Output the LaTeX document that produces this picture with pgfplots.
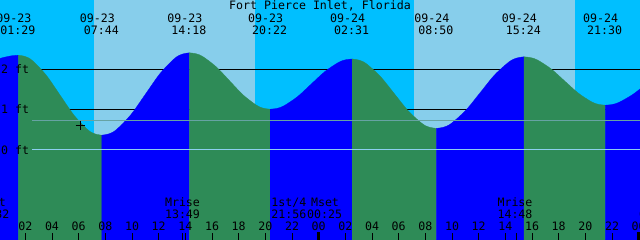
\documentclass[border=0pt]{standalone}
\usepackage{fontspec}
\usepackage{pgfplots}
\pgfplotsset{compat=1.18}
\newfontfamily\pxfont{DejaVu Sans Mono}
\newcommand{\pf}{\pxfont\fontsize{11.6}{12}\selectfont}
\definecolor{night}{HTML}{00BFFF}
\definecolor{day}{HTML}{87CEEB}
\definecolor{flood}{HTML}{0000FF}
\definecolor{ebb}{HTML}{2E8B57}
\definecolor{datum}{HTML}{8CCFF0}
\definecolor{msl}{HTML}{66A3A3}
\begin{document}
\begin{tikzpicture}
\begin{axis}[
  width=640pt, height=240pt, scale only axis,
  xmin=0.1, xmax=48.1, ymin=-2.25, ymax=3.75,
  axis line style={draw=none},
  axis on top,
  ytick=\empty,
  xtick={0,2,...,48},
  xticklabels={00,02,04,06,08,10,12,14,16,18,20,22,00,02,04,06,08,10,12,14,16,18,20,22,00},
  extra x ticks={13.82,38.8},
  extra x tick labels={},
  xtick pos=left,
  tick align=inside,
  major tick length=7pt,
  every tick/.append style={black, line width=1pt},
  xticklabel style={font=\pf, anchor=base, inner sep=0pt, yshift=9.3pt},
  clip=true,
  flood/.style={fill=flood, draw=flood, line width=0.3pt, smooth},
  ebb/.style={fill=ebb, draw=ebb, line width=0.3pt, smooth},
]
% sky: night / day bands
\addplot[fill=night, draw=none] coordinates {(-1,-2.25) (7.15,-2.25) (7.15,3.75) (-1,3.75)} -- cycle;
\addplot[fill=day, draw=none] coordinates {(7.15,-2.25) (19.23,-2.25) (19.23,3.75) (7.15,3.75)} -- cycle;
\addplot[fill=night, draw=none] coordinates {(19.23,-2.25) (31.16,-2.25) (31.16,3.75) (19.23,3.75)} -- cycle;
\addplot[fill=day, draw=none] coordinates {(31.16,-2.25) (43.23,-2.25) (43.23,3.75) (31.16,3.75)} -- cycle;
\addplot[fill=night, draw=none] coordinates {(43.23,-2.25) (49,-2.25) (49,3.75) (43.23,3.75)} -- cycle;
% level lines
\addplot[black, line width=1pt] coordinates {(2.5,2) (49,2)};
\addplot[black, line width=1pt] coordinates {(2.5,1) (49,1)};
% water: rising (flood) and falling (ebb) parts of the tide curve
\addplot[flood] coordinates {(-0.8,2.18) (0.1,2.29) (0.96,2.355) (1.483,2.37)}
  -- (axis cs:1.483,-2.25) -- (axis cs:-0.8,-2.25) -- cycle;
\addplot[ebb] coordinates {(1.483,2.37) (2.004,2.336) (2.525,2.236) (3.567,1.87) (4.608,1.37) (5.650,0.87) (6.692,0.504) (7.212,0.404) (7.733,0.37)}
  -- (axis cs:7.733,-2.25) -- (axis cs:1.483,-2.25) -- cycle;
\addplot[flood] coordinates {(7.733,0.37) (8.280,0.405) (8.828,0.508) (9.922,0.885) (11.017,1.4) (12.111,1.915) (13.206,2.292) (13.753,2.395) (14.3,2.43)}
  -- (axis cs:14.3,-2.25) -- (axis cs:7.733,-2.25) -- cycle;
\addplot[ebb] coordinates {(14.3,2.43) (14.806,2.406) (15.311,2.336) (16.322,2.078) (17.333,1.725) (18.344,1.373) (19.356,1.115) (19.861,1.044) (20.367,1.02)}
  -- (axis cs:20.367,-2.25) -- (axis cs:14.3,-2.25) -- cycle;
\addplot[flood] coordinates {(20.367,1.02) (20.880,1.041) (21.392,1.104) (22.417,1.334) (23.442,1.648) (24.467,1.961) (25.492,2.191) (26.004,2.254) (26.517,2.275)}
  -- (axis cs:26.517,-2.25) -- (axis cs:20.367,-2.25) -- cycle;
\addplot[ebb] coordinates {(26.517,2.275) (27.043,2.245) (27.570,2.159) (28.622,1.841) (29.675,1.408) (30.728,0.974) (31.781,0.656) (32.307,0.570) (32.833,0.54)}
  -- (axis cs:32.833,-2.25) -- (axis cs:26.517,-2.25) -- cycle;
\addplot[flood] coordinates {(32.833,0.54) (33.380,0.571) (33.928,0.660) (35.022,0.988) (36.117,1.435) (37.211,1.883) (38.306,2.210) (38.853,2.299) (39.4,2.33)}
  -- (axis cs:39.4,-2.25) -- (axis cs:32.833,-2.25) -- cycle;
\addplot[ebb] coordinates {(39.4,2.33) (39.908,2.309) (40.417,2.249) (41.433,2.028) (42.45,1.725) (43.467,1.423) (44.483,1.201) (44.992,1.141) (45.5,1.12)}
  -- (axis cs:45.5,-2.25) -- (axis cs:39.4,-2.25) -- cycle;
\addplot[flood] coordinates {(45.5,1.12) (46.017,1.138) (46.533,1.192) (47.567,1.39) (48.6,1.66)}
  -- (axis cs:48.6,-2.25) -- (axis cs:45.5,-2.25) -- cycle;
% datum and mean level lines
\addplot[datum, line width=1pt] coordinates {(2.5,0) (49,0)};
\addplot[msl, line width=1pt] coordinates {(2.5,0.74) (49,0.74)};
% current time mark
\addplot[black, only marks, mark=+, mark size=4.5pt, line width=1pt] coordinates {(6.1,0.62)};
% midnight bars
\addplot[black, line width=2.7pt] coordinates {(24,-2.25) (24,-2.04)};
\addplot[black, line width=2.7pt] coordinates {(48,-2.25) (48,-2.04)};
\coordinate (NW) at (rel axis cs:0,1);
\coordinate (SE) at (rel axis cs:1,0);
\end{axis}
\begin{scope}[shift={(NW)}, x=1pt, y=-1pt, every node/.style={font=\pf, inner sep=0pt, anchor=base, text=black}]
\node at (320,9.3) {Fort Pierce Inlet, Florida};
\node at (13.9,22.3) {09-23};  \node at (17.9,34.3) {01:29};
\node at (97.3,22.3) {09-23};  \node at (101.3,34.3) {07:44};
\node at (184.8,22.3) {09-23}; \node at (188.8,34.3) {14:18};
\node at (265.7,22.3) {09-23}; \node at (269.7,34.3) {20:22};
\node at (347.7,22.3) {09-24}; \node at (351.7,34.3) {02:31};
\node at (431.9,22.3) {09-24}; \node at (435.9,34.3) {08:50};
\node at (519.4,22.3) {09-24}; \node at (523.4,34.3) {15:24};
\node at (600.7,22.3) {09-24}; \node at (604.7,34.3) {21:30};
\node[anchor=base west] at (1,73.3) {2 ft};
\node[anchor=base west] at (1,113.3) {1 ft};
\node[anchor=base west] at (1,154.3) {0 ft};
\node at (-8,206.7) {Mset};   \node at (-8,218.3) {23:32};
\node at (182.5,206.7) {Mrise}; \node at (182.5,218.3) {13:49};
\node at (288.8,206.7) {1st/4}; \node at (288.8,218.3) {21:56};
\node at (325,206.7) {Mset};   \node at (324.7,218.3) {00:25};
\node at (515,206.7) {Mrise};  \node at (515,218.3) {14:48};
\node at (656.5,206.7) {Mset}; \node at (656.5,218.3) {01:18};
\end{scope}
\pgfresetboundingbox
\path[use as bounding box] (NW) rectangle (SE);
\end{tikzpicture}
\end{document}
